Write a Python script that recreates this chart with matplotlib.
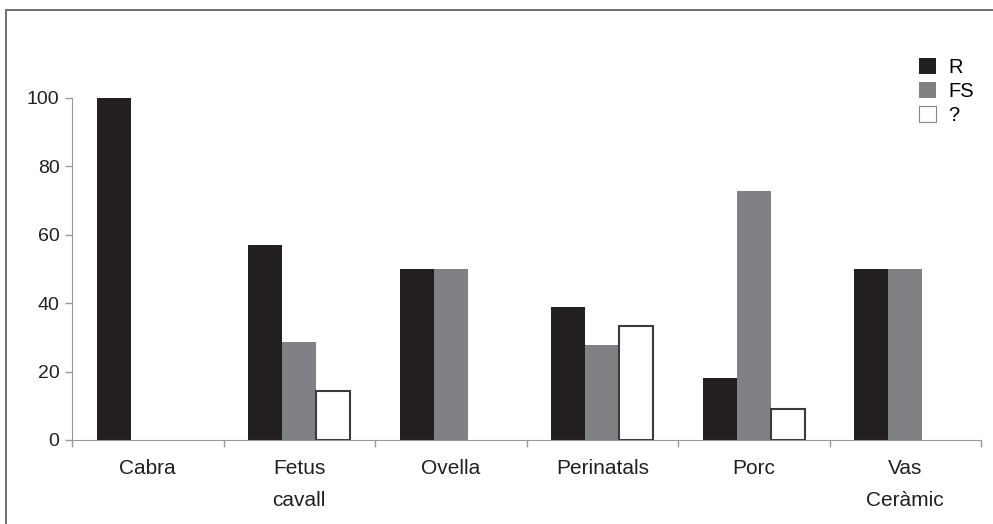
import matplotlib.pyplot as plt
import numpy as np
from matplotlib.patches import Rectangle

# data
categories = ["Cabra", "Fetus\ncavall", "Ovella", "Perinatals", "Porc", "Vas\nCeràmic"]
r_vals = [100, 57.1, 50, 38.9, 18.2, 50]
fs_vals = [0, 28.6, 50, 27.8, 72.7, 50]
q_vals = [0, 14.3, 0, 33.3, 9.1, 0]
y_ticks = [0, 20, 40, 60, 80, 100]

plt.rcParams['font.family'] = ['Liberation Sans', 'DejaVu Sans']

fig = plt.figure(figsize=(9.93, 5.24), dpi=100)
ax = fig.add_axes([72/993, 1-440/524, (981-72)/993, 342/524])

x = np.arange(len(categories)) + 0.5
w = 0.225
b1 = ax.bar(x - w, r_vals, w, color="#231f20", label="R")
b2 = ax.bar(x, fs_vals, w, color="#808184", label="FS")
# only draw ? bars where there is a value
qx = [xi + w for xi, v in zip(x, q_vals) if v > 0]
qv = [v for v in q_vals if v > 0]
b3 = ax.bar(qx, qv, w, color="white", edgecolor="#3a3a3a", linewidth=1.5, label="?")

ax.set_xlim(0, len(categories))
ax.set_ylim(0, 100)
ax.set_yticks(y_ticks)
ax.set_yticklabels([str(t) for t in y_ticks], fontsize=14, color="#231f20")
ax.set_xticks(np.arange(len(categories) + 1))
ax.set_xticklabels([])
ax.set_xticks(x, minor=True)
ax.set_xticklabels(categories, minor=True, fontsize=15, color="#231f20", linespacing=1.85)
ax.tick_params(axis="x", which="minor", length=0, pad=14)
ax.tick_params(axis="x", which="major", length=5, color="#999999", width=1)
ax.tick_params(axis="y", length=5, color="#999999", width=1, pad=4)

for s in ["top", "right"]:
    ax.spines[s].set_visible(False)
ax.spines["left"].set_color("#999999")
ax.spines["bottom"].set_color("#999999")

leg = fig.legend(handles=[b1, b2, b3], loc="upper left", bbox_to_anchor=(919/993, 1-58/524),
                 frameon=False, prop={"size": 14.5},
                 handlelength=0.85, handleheight=0.85, handletextpad=0.6, labelspacing=0.25,
                 borderaxespad=0, borderpad=0)
for h in leg.legend_handles:
    h.set_linewidth(0.8)
    if h.get_facecolor()[0] == 1:
        h.set_edgecolor("#888888")

# border around the figure
fig.patches.append(Rectangle((6/993, -0.1), 1.2, 1-10/524+0.1, transform=fig.transFigure,
                             fill=False, edgecolor="#555555", linewidth=1.2))

plt.savefig("out.png", dpi=100)
